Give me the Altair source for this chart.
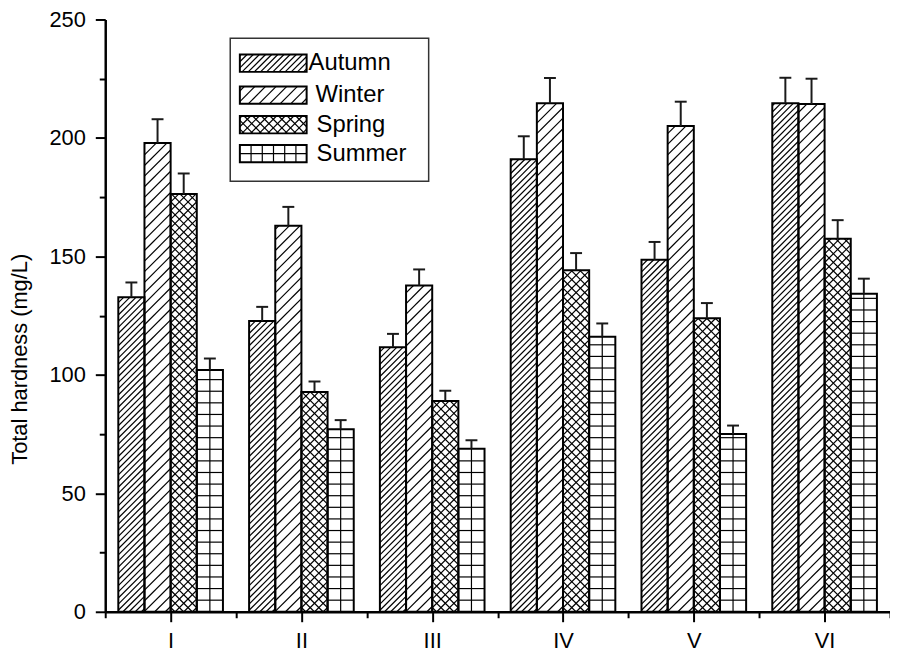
import json
import numpy as np
import pandas as pd
import altair as alt

# ---------------- data ----------------
sites = ["I", "II", "III", "IV", "V", "VI"]
seasons = ["Autumn", "Winter", "Spring", "Summer"]

autumn = [132.8, 122.7, 111.7, 191.0, 148.6, 214.6]
winter = [197.9, 162.9, 137.7, 214.6, 205.0, 214.3]
spring = [176.3, 92.8, 89.0, 144.2, 123.9, 157.5]
summer = [102.1, 77.0, 68.8, 116.1, 75.0, 134.2]

autumn_err = [6.2, 6.0, 5.6, 9.7, 7.5, 10.8]
winter_err = [10.0, 8.0, 6.8, 10.7, 10.3, 10.7]
spring_err = [8.7, 4.4, 4.3, 7.2, 6.4, 7.8]
summer_err = [4.8, 3.9, 3.6, 5.6, 3.6, 6.4]

means = {"Autumn": autumn, "Winter": winter, "Spring": spring, "Summer": summer}
errs = {"Autumn": autumn_err, "Winter": winter_err, "Spring": spring_err, "Summer": summer_err}

# ---------------- layout ----------------
FONT = "Liberation Sans"
PAD_LEFT, PAD_TOP, PAD_BOTTOM = 98, 9, 43
W, H = 791, 597
PLOT_LEFT_PAGE = 8 + PAD_LEFT
PLOT_TOP_PAGE = 8 + PAD_TOP
Y_MAX = 250
PX_X = W / len(sites)
PX_Y = H / Y_MAX
GROUP_PAD = 0.1
BAR_W = 0.2
CAP_HALF_PX = 6

HATCH = {
    "Autumn": [("/", 6.2)],
    "Winter": [("/", 10.7)],
    "Spring": [("/", 8.7), ("\\", 8.7)],
    "Summer": [("h", 11.7), ("v", BAR_W * PX_X / 2)],
}
LEG_SYM_H = 17.5
LEG_HATCH_SUMMER = [("h", LEG_SYM_H / 2), ("v", 11.3)]

# legend geometry in page pixels
LEG_BOX = (232, 36, 432, 180)
LEG_SYM_X = 241.7
LEG_SYM_W = 67.3
LEG_TOPS = [52.3, 84.5, 114.3, 143.5]
LEG_TEXT_X = [311, 318, 319, 319]


def segments(w, h, kind, s):
    out = []
    if kind == "/":
        for c in np.arange(-w + s / 2, h, s):
            x0, x1 = max(0.0, -c), min(w, h - c)
            if x1 - x0 > 0.3:
                out.append((x0, x0 + c, x1, x1 + c))
    elif kind == "\\":
        for c in np.arange(s / 2, w + h, s):
            x0, x1 = max(0.0, c - h), min(w, c)
            if x1 - x0 > 0.3:
                out.append((x0, c - x0, x1, c - x1))
    elif kind == "h":
        for y in np.arange(s, h - 0.5, s):
            out.append((0.0, y, w, y))
    elif kind == "v":
        for x in np.arange(s, w - 0.5, s):
            out.append((x, 0.0, x, h))
    return out


rect_rows, hatch_rows, err_rows = [], [], []
for i, site in enumerate(sites):
    for j, season in enumerate(seasons):
        v = means[season][i]
        e = errs[season][i]
        x0 = i + GROUP_PAD + j * BAR_W
        x1 = x0 + BAR_W
        xc = (x0 + x1) / 2
        rect_rows.append({"x0": x0, "x1": x1, "y0": 0.0, "y1": v})
        err_rows.append({"xc": xc, "value": v, "top": v + e,
                         "cl": xc - CAP_HALF_PX / PX_X, "cr": xc + CAP_HALF_PX / PX_X})
        w_px, h_px = BAR_W * PX_X, v * PX_Y
        for kind, s in HATCH[season]:
            for sx0, sy0, sx1, sy1 in segments(w_px, h_px, kind, s):
                hatch_rows.append({"hx0": x0 + sx0 / PX_X, "hy0": sy0 / PX_Y,
                                   "hx1": x0 + sx1 / PX_X, "hy1": sy1 / PX_Y})


def px_to_x(px_page):
    return (px_page - PLOT_LEFT_PAGE) / PX_X


def px_to_y(py_page):
    return (H - (py_page - PLOT_TOP_PAGE)) / PX_Y


legend_text_rows = []
for k, season in enumerate(seasons):
    top = LEG_TOPS[k]
    bx0 = px_to_x(LEG_SYM_X)
    bx1 = px_to_x(LEG_SYM_X + LEG_SYM_W)
    by0 = px_to_y(top + LEG_SYM_H)
    by1 = px_to_y(top)
    rect_rows.append({"x0": bx0, "x1": bx1, "y0": by0, "y1": by1})
    spec = LEG_HATCH_SUMMER if season == "Summer" else HATCH[season]
    for kind, s in spec:
        for sx0, sy0, sx1, sy1 in segments(LEG_SYM_W, LEG_SYM_H, kind, s):
            hatch_rows.append({"hx0": bx0 + sx0 / PX_X, "hy0": by0 + sy0 / PX_Y,
                               "hx1": bx0 + sx1 / PX_X, "hy1": by0 + sy1 / PX_Y})
    legend_text_rows.append({"lx": px_to_x(LEG_TEXT_X[k]),
                             "ly": px_to_y(top + LEG_SYM_H / 2),
                             "season": season})

rects = pd.DataFrame(rect_rows)
hatch = pd.DataFrame(hatch_rows)
errdf = pd.DataFrame(err_rows)
legtext = pd.DataFrame(legend_text_rows)
legbox = pd.DataFrame([{"bx0": px_to_x(LEG_BOX[0]), "bx1": px_to_x(LEG_BOX[2]),
                        "by0": px_to_y(LEG_BOX[3]), "by1": px_to_y(LEG_BOX[1])}])

# ---------------- scales & axes ----------------
x_scale = alt.Scale(domain=[0, len(sites)], nice=False, zero=False)
y_scale = alt.Scale(domain=[0, Y_MAX], nice=False, zero=False)

x_axis = alt.Axis(
    values=[k * 0.5 for k in range(2 * len(sites) + 1)],
    labelExpr="datum.value % 1 === 0.5 ? " + json.dumps(sites) + "[floor(datum.value)] : ''",
    tickSize={"condition": {"test": "datum.value % 1 === 0.5", "value": 10}, "value": 6},
    tickWidth=2, tickColor="black",
    domainWidth=2.5, domainColor="black",
    labelFont=FONT, labelFontSize=22, labelColor="black", labelPadding=9,
    labelFlush=False, labelOverlap=False, grid=False, title=None,
)
y_axis = alt.Axis(
    values=list(range(0, Y_MAX + 1, 25)),
    labelExpr="datum.value % 50 === 0 ? datum.label : ''",
    tickSize={"condition": {"test": "datum.value % 50 === 0", "value": 10}, "value": 6},
    tickWidth=2, tickColor="black",
    domainWidth=2.5, domainColor="black",
    labelFont=FONT, labelFontSize=22, labelColor="black", labelPadding=10,
    labelOverlap=False, grid=False,
    title="Total hardness (mg/L)", titleFont=FONT, titleFontSize=22,
    titleFontWeight="normal", titleColor="black",
    titleX=-86, titleY=359 - PLOT_TOP_PAGE, titleBaseline="middle", titleAngle=270,
)


def X(field):
    return alt.X(field, type="quantitative", scale=x_scale, axis=x_axis)


def Y(field):
    return alt.Y(field, type="quantitative", scale=y_scale, axis=y_axis)


fill_layer = alt.Chart(rects).mark_rect(fill="white", strokeWidth=0).encode(
    x=X("x0"), x2=alt.X2("x1"), y=Y("y1"), y2=alt.Y2("y0"),
)
hatch_layer = alt.Chart(hatch).mark_rule(color="black", strokeWidth=1.2).encode(
    x=X("hx0"), x2=alt.X2("hx1"), y=Y("hy0"), y2=alt.Y2("hy1"),
)
outline_layer = alt.Chart(rects).mark_rect(
    fill="white", fillOpacity=0, stroke="black", strokeWidth=2
).encode(
    x=X("x0"), x2=alt.X2("x1"), y=Y("y1"), y2=alt.Y2("y0"),
)
err_layer = alt.Chart(errdf).mark_rule(color="#1a1a1a", strokeWidth=2).encode(
    x=X("xc"), y=Y("value"), y2=alt.Y2("top"),
)
cap_layer = alt.Chart(errdf).mark_rule(color="#1a1a1a", strokeWidth=2).encode(
    x=X("cl"), x2=alt.X2("cr"), y=Y("top"),
)
legbox_layer = alt.Chart(legbox).mark_rect(
    fill="white", fillOpacity=0, stroke="#333333", strokeWidth=1.5
).encode(
    x=X("bx0"), x2=alt.X2("bx1"), y=Y("by1"), y2=alt.Y2("by0"),
)
legtext_layer = alt.Chart(legtext).mark_text(
    align="left", baseline="middle", font=FONT, fontSize=24, color="black"
).encode(
    x=X("lx"), y=Y("ly"), text="season:N",
)

chart = alt.layer(
    fill_layer, hatch_layer, outline_layer, err_layer, cap_layer,
    legbox_layer, legtext_layer,
).properties(
    width=W, height=H,
    autosize=alt.AutoSizeParams(type="none"),
    padding={"left": PAD_LEFT, "top": PAD_TOP, "right": 0, "bottom": PAD_BOTTOM},
).configure_view(stroke=None)

chart.save("out.html", embed_options={"renderer": "svg", "actions": False})
